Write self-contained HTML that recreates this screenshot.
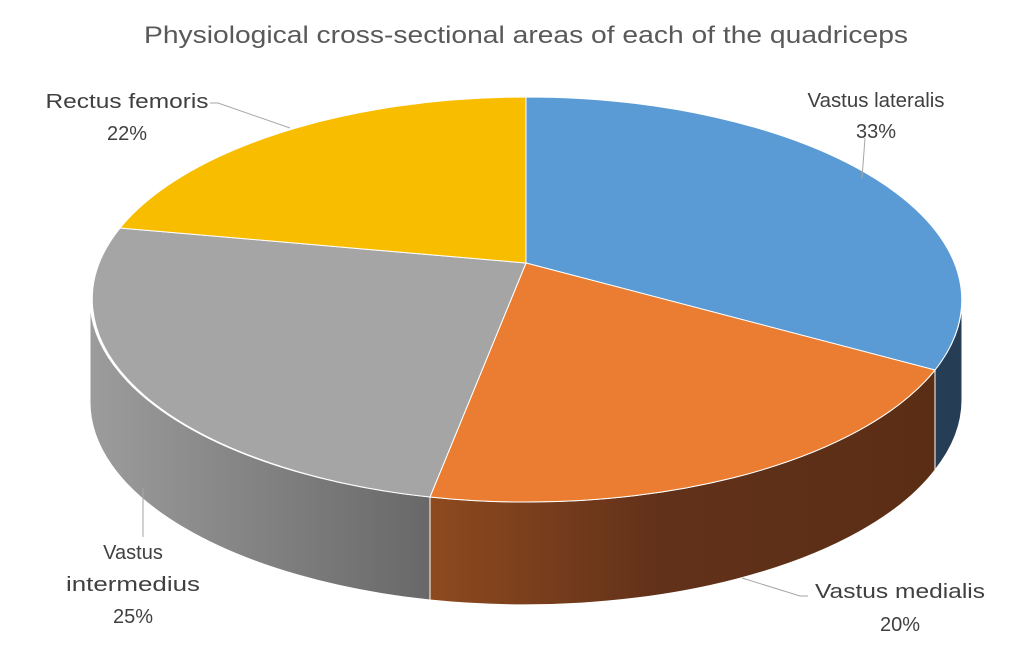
<!DOCTYPE html>
<html><head><meta charset="utf-8"><style>html,body{margin:0;padding:0;background:#fff}svg{display:block}</style></head>
<body>
<svg width="1024" height="651" viewBox="0 0 1024 651" xmlns="http://www.w3.org/2000/svg" font-family="Liberation Sans, sans-serif">
<defs>
<linearGradient id="go" x1="430" y1="0" x2="935" y2="0" gradientUnits="userSpaceOnUse">
<stop offset="0" stop-color="#8e4a1e"/><stop offset="0.45" stop-color="#62311a"/><stop offset="1" stop-color="#5a2e14"/></linearGradient>
<linearGradient id="gg" x1="90" y1="0" x2="430" y2="0" gradientUnits="userSpaceOnUse">
<stop offset="0" stop-color="#9c9c9c"/><stop offset="1" stop-color="#686868"/></linearGradient>
</defs>
<text x="526" y="43" text-anchor="middle" font-size="24" fill="#595959" textLength="764" lengthAdjust="spacingAndGlyphs">Physiological cross-sectional areas of each of the quadriceps</text>
<!-- sides -->
<path d="M962,300 A436,203 0 0 1 935,370 L935,470 A436,203 0 0 0 962,400 Z" fill="#253d55" stroke="#fff" stroke-width="1"/>
<path d="M935,370 A436,203 0 0 1 430,497 L430,600 A436,203 0 0 0 935,470 Z" fill="url(#go)" stroke="#fff" stroke-width="1"/>
<path d="M430,497 A436,203 0 0 1 90,300 L90,400 A436,203 0 0 0 430,600 Z" fill="url(#gg)" stroke="#fff" stroke-width="1"/>
<!-- top -->
<path d="M526,263 L526,97 A436,203 0 0 1 935,370 Z" fill="#5b9bd5" stroke="#fff" stroke-width="1"/>
<path d="M526,263 L935,370 A436,203 0 0 1 430,497 Z" fill="#ea7d31" stroke="#fff" stroke-width="1"/>
<path d="M526,263 L430,497 A436,203 0 0 1 120,228 Z" fill="#a5a5a5" stroke="#fff" stroke-width="1"/>
<path d="M526,263 L120,228 A436,203 0 0 1 526,97 Z" fill="#f9bd00" stroke="#fff" stroke-width="1"/>
<!-- leaders -->
<g stroke="#a6a6a6" stroke-width="1" fill="none">
<path d="M210,103 L218,103 L290,128"/>
<path d="M865,138 L862,178"/>
<path d="M808,596 L800,596 L742,578"/>
<path d="M143,537 L143,488"/>
</g>
<g font-size="20" fill="#404040" text-anchor="middle">
<text x="127" y="108" textLength="163" lengthAdjust="spacingAndGlyphs">Rectus femoris</text>
<text x="127" y="140">22%</text>
<text x="876" y="107" textLength="137" lengthAdjust="spacingAndGlyphs">Vastus lateralis</text>
<text x="876" y="138">33%</text>
<text x="900" y="598" textLength="170" lengthAdjust="spacingAndGlyphs">Vastus medialis</text>
<text x="900" y="631">20%</text>
<text x="133" y="559">Vastus</text>
<text x="133" y="591" textLength="134" lengthAdjust="spacingAndGlyphs">intermedius</text>
<text x="133" y="623">25%</text>
</g>
</svg>
</body></html>
